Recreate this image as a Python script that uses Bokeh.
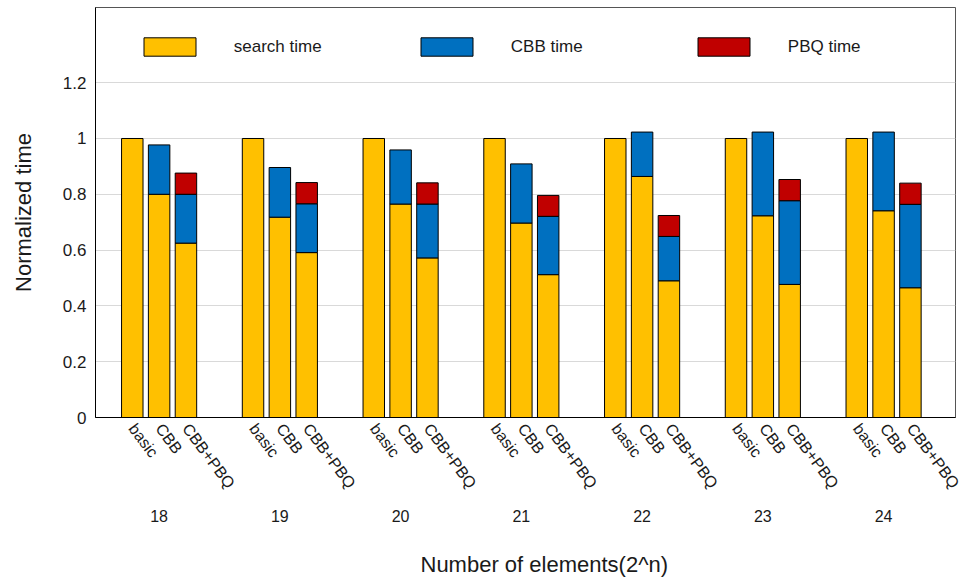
import numpy as np
from bokeh.plotting import figure
from bokeh.models import (ColumnDataSource, FixedTicker, LinearAxis, Range1d,
                          NumeralTickFormatter, Title, Legend)
from bokeh.embed import file_html
from bokeh.resources import INLINE

# ---------------- data ----------------
groups = ["18", "19", "20", "21", "22", "23", "24"]
configs = ["basic", "CBB", "CBB+PBQ"]

basic_search = [1.0, 1.0, 1.0, 1.0, 1.0, 1.0, 1.0]
cbb_search = [0.800, 0.718, 0.765, 0.697, 0.864, 0.723, 0.741]
cbb_cbb = [0.177, 0.178, 0.194, 0.212, 0.159, 0.300, 0.282]
pbq_search = [0.625, 0.591, 0.572, 0.512, 0.490, 0.477, 0.465]
pbq_cbb = [0.175, 0.175, 0.193, 0.209, 0.159, 0.300, 0.299]
pbq_pbq = [0.076, 0.076, 0.076, 0.075, 0.075, 0.076, 0.076]

series = ["search time", "CBB time", "PBQ time"]
colors = ["#FFC000", "#0070C0", "#C00000"]

y_ticks = [0, 0.2, 0.4, 0.6, 0.8, 1.0, 1.2]

# ---------------- layout of bars ----------------
GROUP_PITCH = 9
OFFSETS = [-2, 0, 2]
NA = np.nan  # segment not present in this configuration

xs, search, cbb, pbq, labels = [], [], [], [], []
for g in range(len(groups)):
    vals = [
        (basic_search[g], NA, NA),
        (cbb_search[g], cbb_cbb[g], NA),
        (pbq_search[g], pbq_cbb[g], pbq_pbq[g]),
    ]
    for k, (s, c, q) in enumerate(vals):
        xs.append(GROUP_PITCH * g + OFFSETS[k])
        search.append(s)
        cbb.append(c)
        pbq.append(q)
        labels.append(configs[k])

source = ColumnDataSource(dict(x=np.array(xs, dtype=float),
                               search=np.array(search), cbb=np.array(cbb),
                               pbq=np.array(pbq)))

p = figure(width=973, height=581, output_backend="svg", toolbar_location=None,
           x_range=Range1d(-4.742, 59.36), y_range=Range1d(0, 1.4695),
           min_border_left=95, min_border_right=18, min_border_top=7,
           min_border_bottom=164)

rs = p.vbar_stack(["search", "cbb", "pbq"], x="x", width=1.6, source=source,
                  fill_color=colors, line_color="black", line_width=1)

legend = Legend(items=[(series[i], [rs[i]]) for i in range(3)],
                orientation="horizontal", location=(41.8, 358.6),
                glyph_width=65, glyph_height=23, label_height=23,
                label_width=150, label_standoff=32, spacing=30,
                padding=0, margin=0, border_line_color=None,
                background_fill_alpha=0,
                label_text_font="Liberation Sans", label_text_font_size="17px",
                label_text_color="#1a1a1a")
p.add_layout(legend, "center")

# frame
p.outline_line_color = "#555555"
p.outline_line_width = 1
p.xgrid.visible = False
p.ygrid.ticker = FixedTicker(ticks=y_ticks[1:])
p.ygrid.grid_line_color = "#d9d9d9"
p.ygrid.grid_line_width = 1

# y axis
ya = p.yaxis[0]
ya.ticker = FixedTicker(ticks=y_ticks)
ya.formatter = NumeralTickFormatter(format="0.[0]")
ya.major_tick_line_color = None
ya.minor_tick_line_color = None
ya.major_tick_out = 0
ya.major_tick_in = 0
ya.minor_tick_out = 0
ya.major_label_standoff = 9
ya.axis_line_color = "black"
ya.major_label_text_font = "Liberation Sans"
ya.major_label_text_font_size = "17px"
ya.major_label_text_color = "#1a1a1a"
ya.axis_label = "Normalized time"
ya.axis_label_text_font = "Liberation Sans"
ya.axis_label_text_font_size = "22px"
ya.axis_label_text_font_style = "normal"
ya.axis_label_text_color = "#1a1a1a"
ya.axis_label_standoff = 24

# x axis: configuration labels
xa = p.xaxis[0]
xa.ticker = FixedTicker(ticks=xs)
xa.major_label_overrides = {x: l for x, l in zip(xs, labels)}
xa.major_label_orientation = -0.93
xa.major_tick_line_color = None
xa.minor_tick_line_color = None
xa.major_tick_out = 0
xa.major_tick_in = 0
xa.minor_tick_out = 0
xa.major_label_standoff = 8
xa.axis_line_color = "black"
xa.major_label_text_font = "Liberation Sans"
xa.major_label_text_font_size = "16px"
xa.major_label_text_color = "#1a1a1a"

# second x axis: group labels
group_x = [GROUP_PITCH * g for g in range(len(groups))]
xa2 = LinearAxis(ticker=FixedTicker(ticks=group_x),
                 major_label_overrides={x: l for x, l in zip(group_x, groups)})
xa2.axis_line_color = None
xa2.major_tick_line_color = None
xa2.minor_tick_line_color = None
xa2.major_tick_out = 0
xa2.major_tick_in = 0
xa2.minor_tick_out = 0
xa2.major_label_standoff = 10
xa2.major_label_text_font = "Liberation Sans"
xa2.major_label_text_font_size = "16px"
xa2.major_label_text_color = "#1a1a1a"
p.add_layout(xa2, "below")

# blank spacer axis (gap between group labels and the axis title)
spacer = LinearAxis(ticker=FixedTicker(ticks=[group_x[0]]),
                    major_label_overrides={group_x[0]: ""},
                    axis_line_color=None,
                    major_tick_line_color=None, minor_tick_line_color=None,
                    major_tick_out=24, major_tick_in=0, minor_tick_out=0,
                    major_label_standoff=0, major_label_text_font_size="1px",
                    major_label_text_color=None)
p.add_layout(spacer, "below")

# x axis title
xtitle = Title(text="Number of elements(2^n)", align="left", offset=325,
               vertical_align="bottom",
               text_font="Liberation Sans", text_font_size="22px",
               text_font_style="normal", text_color="#1a1a1a", standoff=2)
p.add_layout(xtitle, "below")

open("out.html", "w").write(file_html(p, INLINE))
